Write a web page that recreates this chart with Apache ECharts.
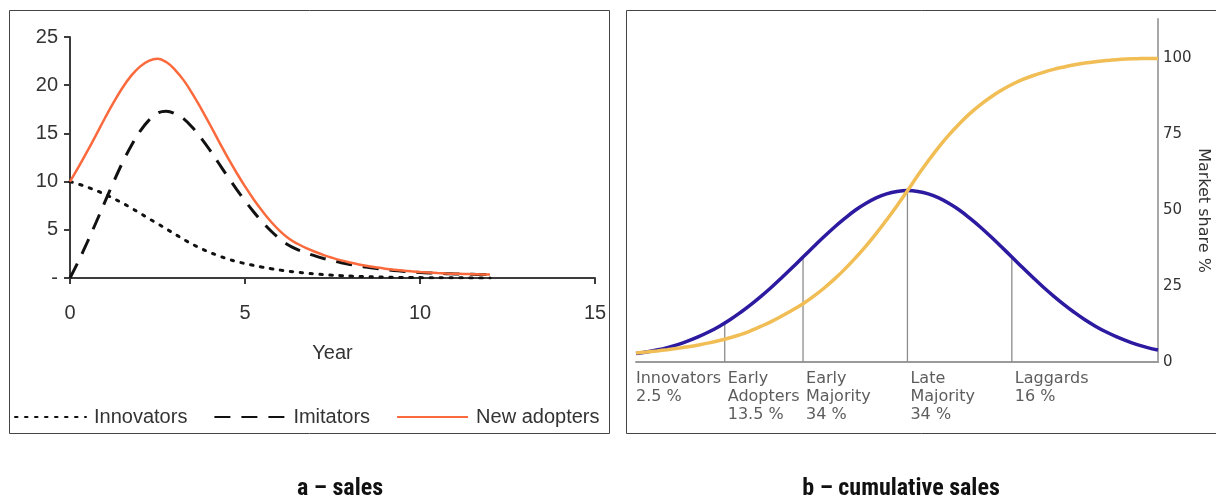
<!DOCTYPE html>
<html>
<head>
<meta charset="utf-8">
<script src="https://cdn.jsdelivr.net/npm/echarts@6/dist/echarts.min.js"></script>
<style>
  html, body { margin: 0; padding: 0; background: #fff; }
  #chart { width: 1216px; height: 500px; }
</style>
</head>
<body>
<div id="chart"></div>
<script>
// ---------- Panel a: sales (Bass model) ----------
const years = [0, 0.25, 0.5, 0.75, 1, 1.25, 1.5, 1.75, 2, 2.25, 2.5, 2.75, 3, 3.25, 3.5, 3.75, 4, 4.25, 4.5, 4.75, 5, 5.25, 5.5, 5.75, 6, 6.25, 6.5, 6.75, 7, 7.25, 7.5, 7.75, 8, 8.25, 8.5, 8.75, 9, 9.25, 9.5, 9.75, 10, 10.25, 10.5, 10.75, 11, 11.25, 11.5, 11.75, 12];
const innovators = [10, 9.73, 9.42, 9.07, 8.68, 8.24, 7.77, 7.26, 6.72, 6.17, 5.65, 5.1, 4.55, 4.0, 3.5, 3.05, 2.65, 2.3, 1.98, 1.72, 1.5, 1.3, 1.12, 0.96, 0.82, 0.7, 0.6, 0.5, 0.42, 0.35, 0.29, 0.24, 0.2, 0.16, 0.13, 0.11, 0.09, 0.07, 0.06, 0.05, 0.04, 0.03, 0.03, 0.02, 0.02, 0.02, 0.01, 0.01, 0.01];
const imitators = [0, 1.8, 3.76, 5.81, 7.92, 10.0, 11.97, 13.73, 15.21, 16.35, 17.1, 17.3, 17.05, 16.5, 15.6, 14.5, 13.25, 11.9, 10.55, 9.25, 8.0, 6.85, 5.8, 4.85, 4.05, 3.4, 2.95, 2.6, 2.3, 2.03, 1.8, 1.59, 1.41, 1.25, 1.11, 0.99, 0.88, 0.79, 0.71, 0.64, 0.58, 0.53, 0.48, 0.45, 0.42, 0.4, 0.38, 0.36, 0.35];
const newAdopters = [10, 11.55, 13.18, 14.88, 16.6, 18.24, 19.74, 20.99, 21.93, 22.52, 22.75, 22.4, 21.6, 20.5, 19.1, 17.55, 15.9, 14.2, 12.53, 10.97, 9.5, 8.15, 6.92, 5.81, 4.87, 4.1, 3.55, 3.1, 2.72, 2.38, 2.09, 1.83, 1.61, 1.41, 1.24, 1.1, 0.97, 0.86, 0.77, 0.69, 0.62, 0.56, 0.51, 0.47, 0.44, 0.42, 0.39, 0.37, 0.36];
const salesYTicks = [0, 5, 10, 15, 20, 25];
const salesYTickLabels = ['-', '5', '10', '15', '20', '25'];

// ---------- Panel b: cumulative sales (diffusion of innovations) ----------
const zPos = [-2.6, -2.5, -2.4, -2.3, -2.2, -2.1, -2.0, -1.9, -1.8, -1.7, -1.6, -1.5, -1.4, -1.3, -1.2, -1.1, -1.0, -0.9, -0.8, -0.7, -0.6, -0.5, -0.4, -0.3, -0.2, -0.1, 0, 0.1, 0.2, 0.3, 0.4, 0.5, 0.6, 0.7, 0.8, 0.9, 1.0, 1.1, 1.2, 1.3, 1.4, 1.5, 1.6, 1.7, 1.8, 1.9, 2.0, 2.1, 2.2, 2.3, 2.4];
const adoptersBell = [2.8, 3.3, 3.95, 4.75, 5.75, 6.95, 8.35, 9.95, 11.8, 13.9, 16.3, 18.9, 21.7, 24.7, 27.9, 31.2, 34.6, 37.95, 41.25, 44.4, 47.3, 50.0, 52.2, 54.05, 55.4, 56.2, 56.5, 56.2, 55.4, 54.05, 52.2, 50.0, 47.3, 44.4, 41.25, 37.95, 34.6, 31.2, 27.9, 24.7, 21.7, 18.9, 16.3, 13.9, 11.8, 9.95, 8.35, 6.95, 5.75, 4.75, 3.95];
const marketShare = [3.0, 3.3, 3.65, 4.05, 4.5, 5.0, 5.6, 6.3, 7.1, 8.0, 9.0, 10.3, 11.8, 13.4, 15.2, 17.1, 19.2, 21.6, 24.3, 27.3, 30.6, 34.2, 38.1, 42.3, 46.8, 51.5, 56.4, 61.5, 66.3, 70.8, 74.9, 78.6, 81.9, 84.8, 87.3, 89.5, 91.4, 93.0, 94.3, 95.4, 96.4, 97.2, 97.9, 98.5, 98.95, 99.3, 99.6, 99.8, 99.9, 100, 100];
const dividerZ = [-1.75, -1, 0, 1];
const dividerTop = [12.8, 34.6, 56.5, 34.6];
const segStartZ = [-2.6, -1.75, -1, 0, 1];
const segNames = ['Innovators', 'Early\nAdopters', 'Early\nMajority', 'Late\nMajority', 'Laggards'];
const segShares = ['2.5 %', '13.5 %', '34 %', '34 %', '16 %'];
const shareTicks = [0, 25, 50, 75, 100];

const chart = echarts.init(document.getElementById('chart'), null, { renderer: 'canvas' });

const arial = '"Liberation Sans", Arial, sans-serif';
const dejavu = '"DejaVu Sans", sans-serif';
const narrow = '"Liberation Sans Narrow", "Roboto Condensed", Arial, sans-serif';
const axisDark = '#3c3c3c';

const pairs = (xs, ys) => xs.map((x, i) => [x, ys[i]]);

const series = [
  {
    name: 'Innovators', type: 'line', xAxisIndex: 0, yAxisIndex: 0,
    data: pairs(years, innovators), smooth: 0.4, symbol: 'none',
    lineStyle: { color: '#111', width: 3, type: [2.5, 7.5], cap: 'round' },
    itemStyle: { color: '#111' }, z: 3
  },
  {
    name: 'Imitators', type: 'line', xAxisIndex: 0, yAxisIndex: 0,
    data: pairs(years, imitators), smooth: 0.4, symbol: 'none',
    lineStyle: { color: '#111', width: 3, type: [16, 11] },
    itemStyle: { color: '#111' }, z: 3
  },
  {
    name: 'New adopters', type: 'line', xAxisIndex: 0, yAxisIndex: 0,
    data: pairs(years, newAdopters), smooth: 0.4, symbol: 'none',
    lineStyle: { color: '#fb6a3c', width: 2.5 },
    itemStyle: { color: '#fb6a3c' }, z: 4
  }
];

// divider lines in panel b
dividerZ.forEach((z, i) => {
  series.push({
    type: 'line', xAxisIndex: 1, yAxisIndex: 1, symbol: 'none', silent: true,
    data: [[z, 0], [z, dividerTop[i]]],
    lineStyle: { color: '#8c8c8c', width: 1.3 }, z: 2
  });
});

series.push({
  name: 'Adopters', type: 'line', xAxisIndex: 1, yAxisIndex: 1,
  data: pairs(zPos, adoptersBell), smooth: 0.4, symbol: 'none',
  lineStyle: { color: '#2c1aa0', width: 3.5 }, z: 3
});
series.push({
  name: 'Market share', type: 'line', xAxisIndex: 1, yAxisIndex: 1,
  data: pairs(zPos, marketShare), smooth: 0.4, symbol: 'none',
  lineStyle: { color: '#f1bd55', width: 3.5 }, z: 4
});
series.push({
  type: 'scatter', xAxisIndex: 1, yAxisIndex: 1, symbolSize: 0, silent: true,
  data: segStartZ.map((z, i) => ({
    value: [z, 0],
    name: segNames[i] + '\n' + segShares[i],
    label: { padding: [0, 0, 0, i === 0 ? 0 : 3] }
  })),
  label: {
    show: true,
    position: [0, 8],
    formatter: p => p.name,
    align: 'left', verticalAlign: 'top',
    fontFamily: dejavu, fontSize: 16, lineHeight: 18, color: '#333'
  }
});

const option = {
  animation: false,
  backgroundColor: '#fff',
  title: [
    { text: 'a – sales', left: 335, top: 472, textAlign: 'center',
      textStyle: { fontFamily: narrow, fontWeight: 'bold', fontSize: 24, color: '#111' } },
    { text: 'b – cumulative sales', left: 896, top: 472, textAlign: 'center',
      textStyle: { fontFamily: narrow, fontWeight: 'bold', fontSize: 24, color: '#111' } }
  ],
  graphic: [
    { type: 'rect', shape: { x: 9.5, y: 10.5, width: 600, height: 423 }, style: { fill: 'none', stroke: '#444', lineWidth: 1 }, silent: true },
    { type: 'rect', shape: { x: 626.5, y: 10.5, width: 600, height: 423 }, style: { fill: 'none', stroke: '#444', lineWidth: 1 }, silent: true }
  ],
  legend: {
    data: ['Innovators', 'Imitators', 'New adopters'],
    left: 14, top: 407, padding: 0, itemWidth: 71, itemHeight: 12, itemGap: 26,
    itemStyle: { opacity: 0, borderWidth: 0 },
    textStyle: { fontFamily: arial, fontSize: 20, color: '#333', padding: [0, 0, 0, 3] }
  },
  grid: [
    { left: 70, top: 37, width: 525, height: 241 },
    { left: 636, top: 19, width: 522, height: 343 }
  ],
  xAxis: [
    {
      type: 'value', gridIndex: 0, min: 0, max: 15, interval: 5,
      name: 'Year', nameLocation: 'middle', nameGap: 65,
      nameTextStyle: { fontFamily: arial, fontSize: 20, color: '#333' },
      axisLine: { show: true, onZero: false, lineStyle: { color: axisDark, width: 2 } },
      axisTick: { show: true, length: 6, lineStyle: { color: axisDark, width: 2 } },
      axisLabel: { margin: 25, fontFamily: arial, fontSize: 20, color: '#333', showMaxLabel: true },
      splitLine: { show: false }
    },
    {
      type: 'value', gridIndex: 1, min: -2.6, max: 2.4,
      axisLine: { show: true, onZero: false, lineStyle: { color: '#9a9a9a', width: 2 } },
      axisTick: { show: false }, axisLabel: { show: false }, splitLine: { show: false }
    }
  ],
  yAxis: [
    {
      type: 'value', gridIndex: 0, min: 0, max: 25, interval: 5,
      axisLine: { show: true, onZero: false, lineStyle: { color: axisDark, width: 2 } },
      axisTick: { show: true, length: 6, lineStyle: { color: axisDark, width: 2 } },
      axisLabel: {
        margin: 12, fontFamily: arial, fontSize: 20, color: '#333',
        formatter: v => { const k = salesYTicks.indexOf(v); return k >= 0 ? salesYTickLabels[k] : ''; }
      },
      splitLine: { show: false }
    },
    {
      type: 'value', gridIndex: 1, min: 0, max: 113, interval: 25, position: 'right',
      name: 'Market share %', nameLocation: 'middle', nameGap: 24, nameRotate: -90,
      nameTextStyle: { fontFamily: dejavu, fontSize: 16, color: '#333', padding: [0, 0, 0, 40] },
      axisLine: { show: true, onZero: false, lineStyle: { color: '#a8a8a8', width: 2 } },
      axisTick: { show: false },
      axisLabel: {
        margin: 5, fontFamily: dejavu, fontSize: 15, color: '#333', showMaxLabel: false,
        padding: [0, 0, 10, 0],
        formatter: v => (shareTicks.indexOf(v) >= 0 ? String(v) : '')
      },
      splitLine: { show: false }
    }
  ],
  series: series
};

chart.setOption(option);
</script>
</body>
</html>
